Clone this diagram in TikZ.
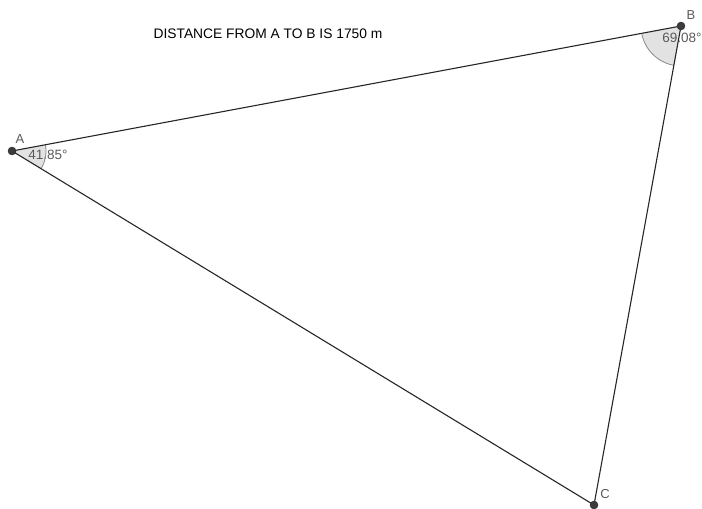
\documentclass[tikz,border=0pt]{standalone}
\usepackage{fontspec}
\setmainfont{Liberation Sans}
\usetikzlibrary{angles}
\definecolor{ptgray}{HTML}{3C3C3C}
\definecolor{labgray}{HTML}{5A5A5A}
\definecolor{sectfill}{HTML}{E2E2E2}
\definecolor{sectline}{HTML}{8A8A8A}

\begin{document}
\begin{tikzpicture}[x=1pt, y=1pt,
            pt/.style={circle, fill=ptgray, draw=black!85, minimum size=8pt, inner sep=0},
            lab/.style={text=labgray, font=\fontsize{13}{15}\selectfont, inner sep=0},
            anglab/.style={text=labgray, font=\fontsize{13.5}{15}\selectfont, inner sep=0},
            sectfl/.style={fill=sectfill, draw=none},
            sectln/.style={draw=sectline, line width=0.8pt}]
            \useasboundingbox (0,0) rectangle (702,509);
            % vertices
            \coordinate (A) at (12, 358);
            \coordinate (B) at (681, 483);
            \coordinate (C) at (594, 4);

            % angle sectors
            \pic[sectfl, angle radius=34pt] {angle = C--A--B};
            \pic[sectfl, angle radius=40pt] {angle = A--B--C};
            \node[anglab] (angA) at (48, 354) {41.85°};
            \node[anglab] (angB) at (682, 471) {69.08°};
            \pic[sectln, angle radius=34pt] {angle = C--A--B};
            \pic[sectln, angle radius=40pt] {angle = A--B--C};

            % sides
            \draw[line width=1.1pt, black!85] (A) -- (B) -- (C) -- cycle;

            % points
            \foreach \p in {A, B, C} {
                \node[pt] (dot\p) at (\p) {};
            }
            \node[lab] (labA) at (20, 370) {A};
            \node[lab] (labB) at (691, 494) {B};
            \node[lab] (labC) at (605, 15) {C};

            \node[font=\fontsize{13.8}{16}\selectfont, inner sep=0] (title) at (268, 475) {DISTANCE FROM A TO B IS 1750 m};
        \end{tikzpicture}
\end{document}
